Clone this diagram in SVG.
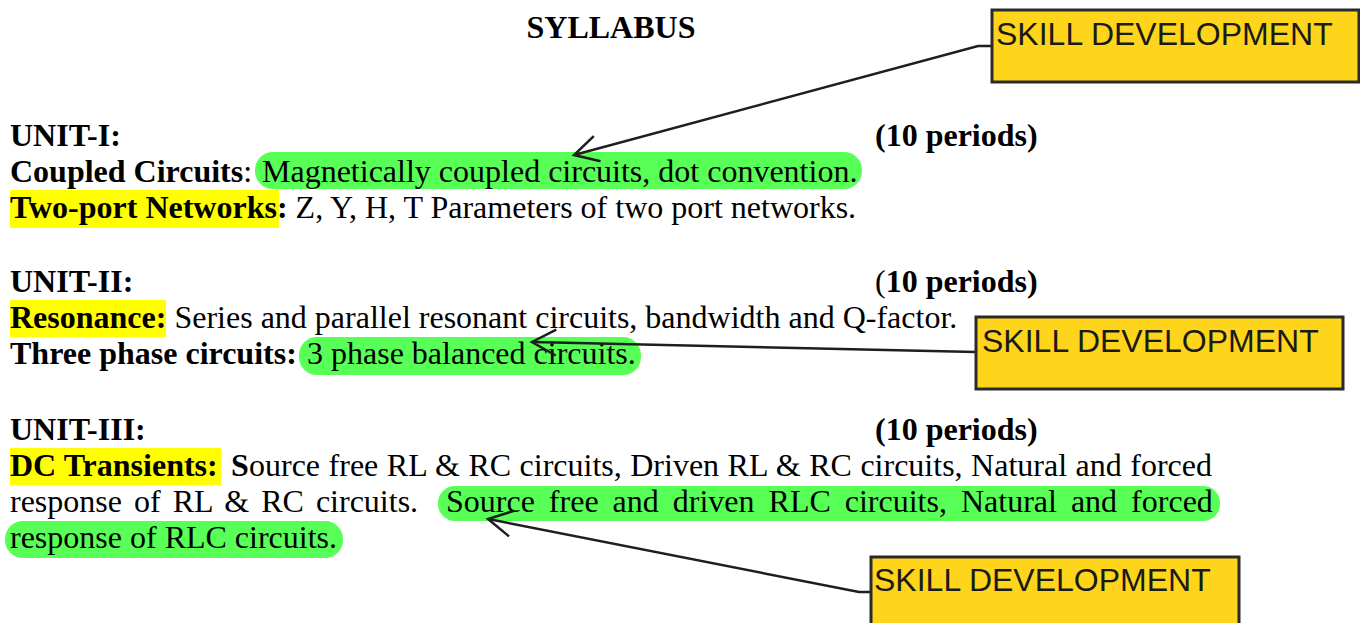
<svg xmlns="http://www.w3.org/2000/svg" width="1360" height="623" viewBox="0 0 1360 623">
<defs>
<style>
.t{font-family:"Liberation Serif","Times New Roman",serif;font-size:32px;fill:#000}
.b{font-weight:bold}
.gh{fill:#57FF57}
.yh{fill:#FFFF00}
.box{fill:#FED51A;stroke:#2a2a2a;stroke-width:3}
.bt{font-family:"Liberation Sans",Arial,sans-serif;font-size:32px;fill:#1a1a1a}
.con{fill:none;stroke:#1e1e1e;stroke-width:2.5}
</style>
<marker id="arr" markerUnits="userSpaceOnUse" markerWidth="40" markerHeight="40" refX="0" refY="0" orient="auto" overflow="visible">
<path d="M -24 -13 L 0 0 L -24 13" fill="none" stroke="#1e1e1e" stroke-width="2.5"/>
</marker>
</defs>
<rect width="1360" height="623" fill="#fff"/>

<g id="highlights">
<rect class="gh" x="255" y="152" width="607" height="37" rx="18"/>
<rect class="yh" x="10" y="190" width="269" height="38"/>
<rect class="yh" x="10" y="300" width="156" height="37"/>
<rect class="gh" x="299" y="337" width="342" height="38" rx="18"/>
<rect class="yh" x="10" y="448" width="211" height="37"/>
<rect class="gh" x="438" y="486" width="782" height="35" rx="17"/>
<rect class="gh" x="5" y="521" width="338" height="37" rx="18"/>
</g>

<g id="title">
<text class="t b" x="611" y="38" text-anchor="middle">SYLLABUS</text>
</g>

<g id="unit1">
<text class="t b" x="10" y="146">UNIT-I:</text>
<text class="t b" x="875" y="146">(10 periods)</text>
<text class="t" x="10" y="182"><tspan class="b">Coupled Circuits</tspan>:</text>
<text class="t" x="262" y="182">Magnetically coupled circuits, dot convention.</text>
<text class="t" x="10" y="218"><tspan class="b">Two-port Networks:</tspan> Z, Y, H, T Parameters of two port networks.</text>
</g>

<g id="unit2">
<text class="t b" x="10" y="292">UNIT-II:</text>
<text class="t" x="875" y="292">(<tspan class="b">10 periods)</tspan></text>
<text class="t" x="10" y="328"><tspan class="b">Resonance:</tspan> Series and parallel resonant circuits, bandwidth and Q-factor.</text>
<text class="t b" x="10" y="364">Three phase circuits:</text>
<text class="t" x="307" y="364">3 phase balanced circuits.</text>
</g>

<g id="unit3">
<text class="t b" x="10" y="440">UNIT-III:</text>
<text class="t b" x="875" y="440">(10 periods)</text>
<text class="t b" x="10" y="476">DC Transients:</text>
<text class="t b" x="231" y="476">S</text>
<text class="t" x="249" y="476" word-spacing="0.5">ource free RL &amp; RC circuits, Driven RL &amp; RC circuits, Natural and forced</text>
<text class="t" x="10" y="512" word-spacing="4">response of RL &amp; RC circuits.</text>
<text class="t" x="446" y="512" word-spacing="6">Source free and driven RLC circuits, Natural and forced</text>
<text class="t" x="10" y="548">response of RLC circuits.</text>
</g>

<g id="connectors">
<path class="con" marker-end="url(#arr)" d="M 992 46 L 978 46 L 574 155"/>
<path class="con" marker-end="url(#arr)" d="M 976 352 L 532 342"/>
<path class="con" marker-end="url(#arr)" d="M 871 592 L 859 592 L 488 519"/>
</g>

<g id="skill1">
<rect class="box" x="992" y="10" width="367" height="72"/>
<text class="bt" x="996" y="45">SKILL DEVELOPMENT</text>
</g>
<g id="skill2">
<rect class="box" x="976" y="317" width="367" height="72"/>
<text class="bt" x="982" y="352">SKILL DEVELOPMENT</text>
</g>
<g id="skill3">
<rect class="box" x="871" y="557" width="368" height="72"/>
<text class="bt" x="874" y="591">SKILL DEVELOPMENT</text>
</g>
</svg>
